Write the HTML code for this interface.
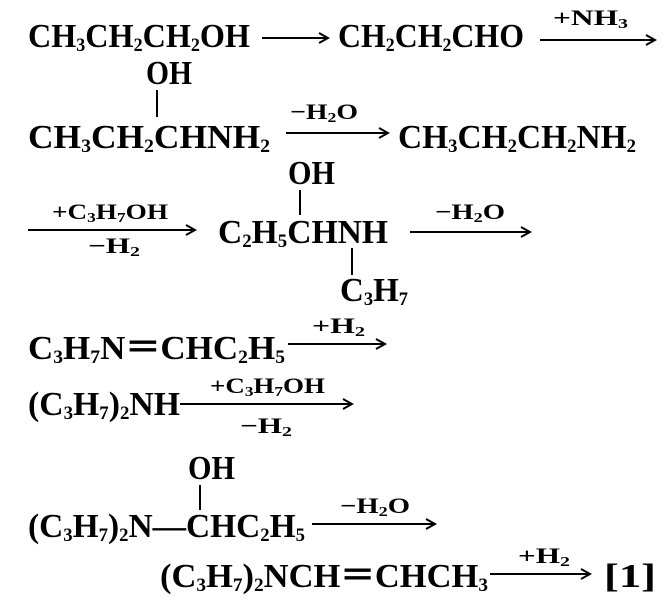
<!DOCTYPE html>
<html><head><meta charset="utf-8"><style>
html,body{margin:0;padding:0;background:#fff;}
svg{display:block;}
text{font-family:"Liberation Serif",serif;font-weight:bold;fill:#000;}
.m{font-size:34px;}
.l{font-size:22px;}
line{stroke:#000;stroke-width:2;}
</style></head><body>
<svg width="664" height="600" viewBox="0 0 664 600" xmlns="http://www.w3.org/2000/svg">
<defs>
<marker id="ar" markerWidth="12" markerHeight="12" refX="10" refY="6" orient="auto" markerUnits="userSpaceOnUse">
<path d="M1,1 L10,6 L1,11" fill="none" stroke="#000" stroke-width="2"/>
</marker>
</defs>
<text class="m" x="28" y="47" textLength="222" lengthAdjust="spacingAndGlyphs">CH<tspan font-size="19" dy="4">3</tspan><tspan dy="-4">CH</tspan><tspan font-size="19" dy="4">2</tspan><tspan dy="-4">CH</tspan><tspan font-size="19" dy="4">2</tspan><tspan dy="-4">OH</tspan></text>
<line x1="262" y1="38" x2="328" y2="38" marker-end="url(#ar)"/>
<text class="m" x="338" y="47" textLength="186" lengthAdjust="spacingAndGlyphs">CH<tspan font-size="19" dy="4">2</tspan><tspan dy="-4">CH</tspan><tspan font-size="19" dy="4">2</tspan><tspan dy="-4">CHO</tspan></text>
<text class="l" x="553" y="25" textLength="75" lengthAdjust="spacingAndGlyphs">+NH<tspan font-size="14" dy="3">3</tspan></text>
<line x1="540" y1="40" x2="655" y2="40" marker-end="url(#ar)"/>
<text class="m" x="146" y="84" textLength="46" lengthAdjust="spacingAndGlyphs">OH</text>
<line x1="157" y1="90" x2="157" y2="117"/>
<text class="m" x="28" y="148" textLength="242" lengthAdjust="spacingAndGlyphs">CH<tspan font-size="19" dy="4">3</tspan><tspan dy="-4">CH</tspan><tspan font-size="19" dy="4">2</tspan><tspan dy="-4">CHNH</tspan><tspan font-size="19" dy="4">2</tspan></text>
<text class="l" x="290" y="119" textLength="68" lengthAdjust="spacingAndGlyphs">−H<tspan font-size="14" dy="3">2</tspan><tspan dy="-3">O</tspan></text>
<line x1="286" y1="133" x2="388" y2="133" marker-end="url(#ar)"/>
<text class="m" x="398" y="148" textLength="238" lengthAdjust="spacingAndGlyphs">CH<tspan font-size="19" dy="4">3</tspan><tspan dy="-4">CH</tspan><tspan font-size="19" dy="4">2</tspan><tspan dy="-4">CH</tspan><tspan font-size="19" dy="4">2</tspan><tspan dy="-4">NH</tspan><tspan font-size="19" dy="4">2</tspan></text>
<text class="m" x="288" y="184" textLength="47" lengthAdjust="spacingAndGlyphs">OH</text>
<line x1="300" y1="190" x2="300" y2="215"/>
<text class="l" x="52" y="219" textLength="116" lengthAdjust="spacingAndGlyphs">+C<tspan font-size="14" dy="3">3</tspan><tspan dy="-3">H</tspan><tspan font-size="14" dy="3">7</tspan><tspan dy="-3">OH</tspan></text>
<line x1="28" y1="230" x2="195" y2="230" marker-end="url(#ar)"/>
<text class="l" x="88" y="253" textLength="52" lengthAdjust="spacingAndGlyphs">−H<tspan font-size="14" dy="3">2</tspan></text>
<text class="m" x="218" y="243" textLength="170" lengthAdjust="spacingAndGlyphs">C<tspan font-size="19" dy="4">2</tspan><tspan dy="-4">H</tspan><tspan font-size="19" dy="4">5</tspan><tspan dy="-4">CHNH</tspan></text>
<text class="l" x="435" y="219" textLength="70" lengthAdjust="spacingAndGlyphs">−H<tspan font-size="14" dy="3">2</tspan><tspan dy="-3">O</tspan></text>
<line x1="410" y1="232" x2="530" y2="232" marker-end="url(#ar)"/>
<line x1="352" y1="248" x2="352" y2="275"/>
<text class="m" x="340" y="301" textLength="68" lengthAdjust="spacingAndGlyphs">C<tspan font-size="19" dy="4">3</tspan><tspan dy="-4">H</tspan><tspan font-size="19" dy="4">7</tspan></text>
<text class="m" x="28" y="359" textLength="257" lengthAdjust="spacingAndGlyphs">C<tspan font-size="19" dy="4">3</tspan><tspan dy="-4">H</tspan><tspan font-size="19" dy="4">7</tspan><tspan dy="-4">N＝CHC</tspan><tspan font-size="19" dy="4">2</tspan><tspan dy="-4">H</tspan><tspan font-size="19" dy="4">5</tspan></text>
<text class="l" x="312" y="333" textLength="53" lengthAdjust="spacingAndGlyphs">+H<tspan font-size="14" dy="3">2</tspan></text>
<line x1="288" y1="344" x2="385" y2="344" marker-end="url(#ar)"/>
<text class="m" x="28" y="415" textLength="152" lengthAdjust="spacingAndGlyphs">(C<tspan font-size="19" dy="4">3</tspan><tspan dy="-4">H</tspan><tspan font-size="19" dy="4">7</tspan><tspan dy="-4">)</tspan><tspan font-size="19" dy="4">2</tspan><tspan dy="-4">NH</tspan></text>
<text class="l" x="210" y="393" textLength="115" lengthAdjust="spacingAndGlyphs">+C<tspan font-size="14" dy="3">3</tspan><tspan dy="-3">H</tspan><tspan font-size="14" dy="3">7</tspan><tspan dy="-3">OH</tspan></text>
<line x1="180" y1="404" x2="352" y2="404" marker-end="url(#ar)"/>
<text class="l" x="240" y="433" textLength="52" lengthAdjust="spacingAndGlyphs">−H<tspan font-size="14" dy="3">2</tspan></text>
<text class="m" x="188" y="479" textLength="47" lengthAdjust="spacingAndGlyphs">OH</text>
<line x1="200" y1="485" x2="200" y2="510"/>
<text class="m" x="28" y="537" textLength="277" lengthAdjust="spacingAndGlyphs">(C<tspan font-size="19" dy="4">3</tspan><tspan dy="-4">H</tspan><tspan font-size="19" dy="4">7</tspan><tspan dy="-4">)</tspan><tspan font-size="19" dy="4">2</tspan><tspan dy="-4">N—CHC</tspan><tspan font-size="19" dy="4">2</tspan><tspan dy="-4">H</tspan><tspan font-size="19" dy="4">5</tspan></text>
<text class="l" x="340" y="513" textLength="70" lengthAdjust="spacingAndGlyphs">−H<tspan font-size="14" dy="3">2</tspan><tspan dy="-3">O</tspan></text>
<line x1="312" y1="524" x2="435" y2="524" marker-end="url(#ar)"/>
<text class="m" x="160" y="587" textLength="328" lengthAdjust="spacingAndGlyphs">(C<tspan font-size="19" dy="4">3</tspan><tspan dy="-4">H</tspan><tspan font-size="19" dy="4">7</tspan><tspan dy="-4">)</tspan><tspan font-size="19" dy="4">2</tspan><tspan dy="-4">NCH＝CHCH</tspan><tspan font-size="19" dy="4">3</tspan></text>
<text class="l" x="518" y="563" textLength="52" lengthAdjust="spacingAndGlyphs">+H<tspan font-size="14" dy="3">2</tspan></text>
<line x1="490" y1="574" x2="590" y2="574" marker-end="url(#ar)"/>
<text class="m" x="604" y="587" textLength="52" lengthAdjust="spacingAndGlyphs">[1]</text>
</svg>
</body></html>
